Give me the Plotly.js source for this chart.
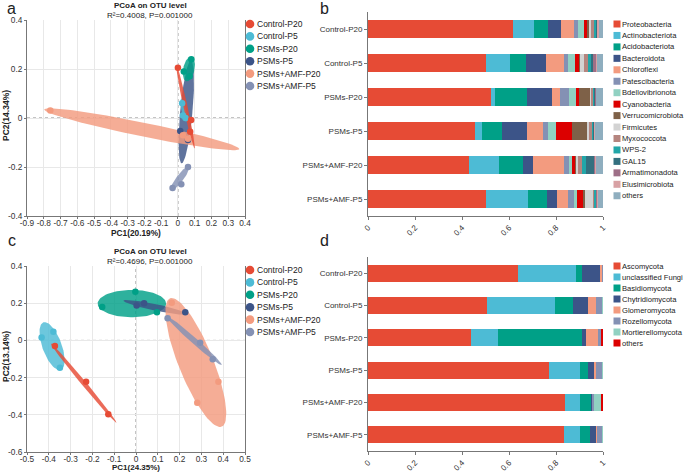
<!DOCTYPE html>
<html>
<head>
<meta charset="utf-8">
<script src="https://cdn.plot.ly/plotly-3.0.1.min.js"></script>
<style>
  body { margin: 0; background: #fff; }
  #chart { width: 685px; height: 473px; }
</style>
</head>
<body>
<div id="chart"></div>
<script>
var groups = ['Control-P20', 'Control-P5', 'PSMs-P20', 'PSMs-P5', 'PSMs+AMF-P20', 'PSMs+AMF-P5'];
var groupColors = ['#E64B35', '#4DBBD5', '#00A087', '#3C5488', '#F39B7F', '#8491B4'];

// panel a - bacteria PCoA, sample scores per group
var aPc1 = [[0.0, 0.079, 0.073], [0.025, 0.03, 0.045], [0.035, 0.08, 0.07], [0.014, 0.06], [-0.761, 0.03, 0.06], [-0.032, 0.02, 0.06]];
var aPc2 = [[0.205, -0.008, -0.056], [0.06, 0.01, 0.0], [0.19, 0.24, 0.17], [-0.053, -0.09], [0.031, -0.07, -0.085], [-0.286, -0.27, -0.2]];
// confidence ellipses: centre, end of long axis, short/long ratio
var aEllCx = [0.046, 0.035, 0.065, 0.05, -0.2155, 0.012];
var aEllCy = [0.043, 0.032, 0.2, 0.025, -0.046, -0.2465];
var aEllEx = [0.099, 0.05, 0.08, 0.078, 0.366, 0.064];
var aEllEy = [-0.124, -0.015, 0.25, 0.235, -0.127, -0.199];
var aEllRatio = [0.05, 0.2, 0.45, 0.12, 0.07, 0.24];
var aTicksX = [-0.9, -0.8, -0.7, -0.6, -0.5, -0.4, -0.3, -0.2, -0.1, 0, 0.1, 0.2, 0.3, 0.4];
var aTicksY = [-0.4, -0.2, 0, 0.2, 0.4];

// panel c - fungi PCoA
var cPc1 = [[-0.372, -0.229, -0.127], [-0.433, -0.379, -0.349], [-0.003, -0.155, 0.096], [0.003, 0.037, 0.226], [0.164, 0.378, 0.281], [0.145, 0.294, 0.352]];
var cPc2 = [[-0.03, -0.222, -0.397], [0.015, 0.047, -0.147], [0.262, 0.18, 0.151], [0.187, 0.2, 0.151], [0.203, -0.222, -0.335], [0.119, -0.012, -0.102]];
var cEllCx = [-0.24, -0.385, -0.019, 0.0875, 0.2745, 0.2655];
var cEllCy = [-0.23, -0.031, 0.198, 0.178, -0.119, 0.0];
var cEllEx = [-0.09, -0.425, 0.138, 0.233, 0.156, 0.393];
var cEllEy = [-0.443, 0.097, 0.198, 0.142, 0.226, -0.132];
var cEllRatio = [0.045, 0.38, 0.4, 0.1, 0.25, 0.08];
var cTicksX = [-0.5, -0.4, -0.3, -0.2, -0.1, 0, 0.1, 0.2, 0.3, 0.4, 0.5];
var cTicksY = [-0.6, -0.4, -0.2, 0, 0.2, 0.4];

// panel b - bacterial phyla relative abundance
var phyla = ['Proteobacteria', 'Actinobacteriota', 'Acidobacteriota', 'Bacteroidota', 'Chloroflexi', 'Patescibacteria',
  'Bdellovibrionota', 'Cyanobacteria', 'Verrucomicrobiota', 'Firmicutes', 'Myxococcota', 'WPS-2', 'GAL15',
  'Armatimonadota', 'Elusimicrobiota', 'others'];
var phylaColors = ['#E64B35', '#4DBBD5', '#00A087', '#3C5488', '#F39B7F', '#8491B4', '#91D1C2', '#DC0000',
  '#7E6148', '#D3D3D3', '#B5857F', '#22A6A8', '#33707F', '#9E6F87', '#D8A1A4', '#8FAEBF'];
var Proteobacteria    = [0.618, 0.501, 0.522, 0.457, 0.431, 0.501];
var Actinobacteriota  = [0.088, 0.103, 0.017, 0.028, 0.126, 0.179];
var Acidobacteriota   = [0.059, 0.068, 0.136, 0.085, 0.104, 0.082];
var Bacteroidota      = [0.055, 0.085, 0.110, 0.108, 0.039, 0.043];
var Chloroflexi       = [0.056, 0.076, 0.031, 0.065, 0.133, 0.048];
var Patescibacteria   = [0.017, 0.020, 0.040, 0.022, 0.023, 0.023];
var Bdellovibrionota  = [0.026, 0.028, 0.031, 0.034, 0.014, 0.014];
var Cyanobacteria     = [0.014, 0.017, 0.011, 0.068, 0.011, 0.025];
var Verrucomicrobiota = [0.006, 0.006, 0.045, 0.065, 0.006, 0.009];
var Firmicutes        = [0.012, 0.014, 0.006, 0.009, 0.008, 0.034];
var Myxococcota       = [0.010, 0.020, 0.009, 0.011, 0.014, 0.005];
var WPS2              = [0.009, 0.012, 0.005, 0.006, 0.017, 0.006];
var GAL15             = [0.003, 0.008, 0.003, 0.002, 0.037, 0.003];
var Armatimonadota    = [0.003, 0.011, 0.003, 0.003, 0.003, 0.003];
var Elusimicrobiota   = [0.005, 0.006, 0.003, 0.003, 0.003, 0.002];
var bacOthers         = [0.020, 0.025, 0.028, 0.034, 0.031, 0.023];
var phylaValues = [Proteobacteria, Actinobacteriota, Acidobacteriota, Bacteroidota, Chloroflexi, Patescibacteria,
  Bdellovibrionota, Cyanobacteria, Verrucomicrobiota, Firmicutes, Myxococcota, WPS2, GAL15,
  Armatimonadota, Elusimicrobiota, bacOthers];

// panel d - fungal phyla relative abundance
var fungi = ['Ascomycota', 'unclassified Fungi', 'Basidiomycota', 'Chytridiomycota', 'Glomeromycota',
  'Rozellomycota', 'Mortierellomycota', 'others'];
var fungiColors = ['#E64B35', '#4DBBD5', '#00A087', '#3C5488', '#F39B7F', '#8491B4', '#91D1C2', '#DC0000'];
var Ascomycota        = [0.640, 0.508, 0.437, 0.770, 0.838, 0.833];
var unclassifiedFungi = [0.247, 0.288, 0.118, 0.131, 0.066, 0.068];
var Basidiomycota     = [0.025, 0.076, 0.357, 0.037, 0.045, 0.042];
var Chytridiomycota   = [0.077, 0.063, 0.014, 0.022, 0.003, 0.029];
var Glomeromycota     = [0.008, 0.037, 0.054, 0.012, 0.003, 0.003];
var Rozellomycota     = [0.002, 0.025, 0.011, 0.025, 0.008, 0.022];
var Mortierellomycota = [0.001, 0.003, 0.002, 0.002, 0.028, 0.002];
var fungiOthers       = [0.000, 0.000, 0.007, 0.001, 0.009, 0.001];
var fungiValues = [Ascomycota, unclassifiedFungi, Basidiomycota, Chytridiomycota, Glomeromycota,
  Rozellomycota, Mortierellomycota, fungiOthers];

var barTicks = [0, 0.2, 0.4, 0.6, 0.8, 1];
var barTickText = ['0', '0.2', '0.4', '0.6', '0.8', '1'];

// ---------- helpers ----------
var W = 685, H = 473;
function fx(p) { return p / W; }
function fy(p) { return 1 - p / H; }
function rgba(hex, a) {
  var n = parseInt(hex.slice(1), 16);
  return 'rgba(' + (n >> 16) + ',' + ((n >> 8) & 255) + ',' + (n & 255) + ',' + a + ')';
}
// ellipse outline from centre, long-axis end and ratio (perpendicular taken in screen space)
function ellipsePath(cx, cy, ex, ey, ratio, sx, sy) {
  var ux = ex - cx, uy = ey - cy;
  var vx = -uy * sy / sx * ratio, vy = ux * sx / sy * ratio;
  var xs = [], ys = [];
  for (var i = 0; i <= 90; i++) {
    var t = i / 90 * 2 * Math.PI;
    xs.push(cx + ux * Math.cos(t) + vx * Math.sin(t));
    ys.push(cy + uy * Math.cos(t) + vy * Math.sin(t));
  }
  return {x: xs, y: ys};
}

var FONT = 'Arial, "Liberation Sans", sans-serif';
var traces = [];

function addPcoa(order, pc1, pc2, ecx, ecy, eex, eey, erat, xa, ya, sx, sy) {
  order.forEach(function(g) {
    var e = ellipsePath(ecx[g], ecy[g], eex[g], eey[g], erat[g], sx, sy);
    traces.push({type: 'scatter', mode: 'lines', x: e.x, y: e.y, xaxis: xa, yaxis: ya,
      fill: 'toself', fillcolor: rgba(groupColors[g], 0.82), line: {width: 0},
      hoverinfo: 'skip', showlegend: false});
  });
  order.forEach(function(g) {
    traces.push({type: 'scatter', mode: 'markers', name: groups[g], x: pc1[g], y: pc2[g],
      xaxis: xa, yaxis: ya, marker: {color: groupColors[g], size: 6.5}, showlegend: false});
  });
}

// plot boxes in pixels
var boxA = {l: 27, r: 245, t: 20, b: 216};
var boxC = {l: 27, r: 245, t: 266, b: 452};
var boxB = {l: 368, r: 603, t: 12, b: 216};
var boxD = {l: 368, r: 603, t: 257, b: 451};

addPcoa([3, 4, 1, 2, 5, 0], aPc1, aPc2, aEllCx, aEllCy, aEllEx, aEllEy, aEllRatio, 'x', 'y',
  (boxA.r - boxA.l) / 1.3, (boxA.b - boxA.t) / 0.8);
addPcoa([2, 3, 4, 5, 1, 0], cPc1, cPc2, cEllCx, cEllCy, cEllEx, cEllEy, cEllRatio, 'x2', 'y2',
  (boxC.r - boxC.l) / 1.0, (boxC.b - boxC.t) / 1.0);

phyla.forEach(function(p, i) {
  traces.push({type: 'bar', orientation: 'h', name: p, x: phylaValues[i], y: groups,
    xaxis: 'x3', yaxis: 'y3', marker: {color: phylaColors[i]}, showlegend: false});
});
fungi.forEach(function(p, i) {
  traces.push({type: 'bar', orientation: 'h', name: p, x: fungiValues[i], y: groups,
    xaxis: 'x4', yaxis: 'y4', marker: {color: fungiColors[i]}, showlegend: false});
});

function scatterAxis(box, horiz, range, ticks, anchor, mirror) {
  var ax = {
    domain: horiz ? [fx(box.l), fx(box.r)] : [fy(box.b), fy(box.t)],
    range: range, tickmode: 'array', tickvals: ticks, ticktext: ticks.map(String), tickangle: 0,
    anchor: anchor, showgrid: true, gridcolor: '#e8e8e8', zeroline: false,
    showline: true, linecolor: '#777', mirror: mirror, ticks: 'outside', ticklen: 2, tickcolor: '#777',
    tickfont: {size: 8.3, color: '#333'}
  };
  if (horiz) ax.ticklabelstandoff = -3;
  return ax;
}
function barXAxis(box, anchor) {
  return {
    domain: [fx(box.l), fx(box.r)], range: [0, 1], tickmode: 'array', tickvals: barTicks, ticktext: barTickText,
    tickangle: -45, anchor: anchor, showgrid: false, zeroline: false, showline: true, linecolor: '#777',
    ticks: 'outside', ticklen: 3, tickcolor: '#777', tickfont: {size: 8, color: '#333'}
  };
}
function barYAxis(box, anchor) {
  return {
    domain: [fy(box.b), fy(box.t)], type: 'category', categoryorder: 'array', categoryarray: groups,
    range: [5.5, -0.5], anchor: anchor, showgrid: false, zeroline: false, showline: true, linecolor: '#777',
    ticks: 'outside', ticklen: 3, tickcolor: '#777', tickfont: {size: 8, color: '#333'}
  };
}

var annotations = [];
var shapes = [];
function text(x, y, t, size, opts) {
  var a = {xref: 'paper', yref: 'paper', x: fx(x), y: fy(y), text: t, showarrow: false,
    xanchor: 'center', yanchor: 'middle', font: {family: FONT, size: size, color: '#222'}};
  for (var k in opts) a[k] = opts[k];
  annotations.push(a);
}

// panel letters and titles
text(11, 8.5, 'a', 16, {borderpad: 0});
text(324, 8.5, 'b', 16, {borderpad: 0});
text(12, 240, 'c', 16, {borderpad: 0});
text(324, 240, 'd', 16, {borderpad: 0});
text(150, 5.4, '<b>PCoA on OTU level</b>', 8, {borderpad: 0});
text(150, 15.4, 'R²=0.4008, P=0.001000', 8, {borderpad: 0});
text(150, 251, '<b>PCoA on OTU level</b>', 8, {borderpad: 0});
text(150, 261, 'R²=0.4696, P=0.001000', 8, {borderpad: 0});
text(136, 233.5, '<b>PC1(20.19%)</b>', 8.3, {borderpad: 0});
text(136, 467.6, '<b>PC1(24.35%)</b>', 8, {borderpad: 0});
text(6, 116, '<b>PC2(14.34%)</b>', 8.5, {textangle: -90, borderpad: 0});
text(6, 357, '<b>PC2(13.14%)</b>', 8.5, {textangle: -90, borderpad: 0});

// zero reference lines (dotted)
[['x', 'y', [-0.9, 0.4], [-0.4, 0.4]], ['x2', 'y2', [-0.5, 0.5], [-0.6, 0.4]]].forEach(function(s) {
  shapes.push({type: 'line', xref: s[0], yref: s[1], x0: 0, x1: 0, y0: s[3][0], y1: s[3][1],
    line: {color: '#888', width: 1, dash: 'dot'}, layer: 'below'});
  shapes.push({type: 'line', xref: s[0], yref: s[1], x0: s[2][0], x1: s[2][1], y0: 0, y1: 0,
    line: {color: '#888', width: 1, dash: 'dot'}, layer: 'below'});
});

// legends drawn by hand (Plotly's legend rows are too tall for this layout)
function groupLegend(top) {
  groups.forEach(function(g, i) {
    var cy = top + i * 12.4;
    shapes.push({type: 'circle', xref: 'paper', yref: 'paper', x0: fx(245.7), x1: fx(254.3),
      y0: fy(cy + 4.3), y1: fy(cy - 4.3), fillcolor: groupColors[i], line: {width: 0}});
    text(256, cy, g, 8.5, {xanchor: 'left', borderpad: 0});
  });
}
function barLegend(names, colors, top, step) {
  names.forEach(function(n, i) {
    var cy = top + i * step;
    shapes.push({type: 'rect', xref: 'paper', yref: 'paper', x0: fx(613.5), x1: fx(620.5),
      y0: fy(cy + 3.5), y1: fy(cy - 3.5), fillcolor: colors[i], line: {width: 0}});
    text(621, cy, n, 7.6, {xanchor: 'left', borderpad: 0});
  });
}
groupLegend(24);
groupLegend(270);
barLegend(phyla, phylaColors, 24, 11.45);
barLegend(fungi, fungiColors, 266, 11);

var layout = {
  width: W, height: H, margin: {l: 0, r: 0, t: 0, b: 0},
  paper_bgcolor: '#fff', plot_bgcolor: '#fff',
  font: {family: FONT, size: 8.5, color: '#333'},
  showlegend: false, barmode: 'stack', bargap: 0.48,
  xaxis: scatterAxis(boxA, true, [-0.9, 0.4], aTicksX, 'y', false),
  yaxis: scatterAxis(boxA, false, [-0.4, 0.4], aTicksY, 'x', true),
  xaxis2: scatterAxis(boxC, true, [-0.5, 0.5], cTicksX, 'y2', false),
  yaxis2: scatterAxis(boxC, false, [-0.6, 0.4], cTicksY, 'x2', true),
  xaxis3: barXAxis(boxB, 'y3'),
  yaxis3: barYAxis(boxB, 'x3'),
  xaxis4: barXAxis(boxD, 'y4'),
  yaxis4: barYAxis(boxD, 'x4'),
  annotations: annotations,
  shapes: shapes
};

Plotly.newPlot('chart', traces, layout, {displayModeBar: false, staticPlot: true});
</script>
</body>
</html>
